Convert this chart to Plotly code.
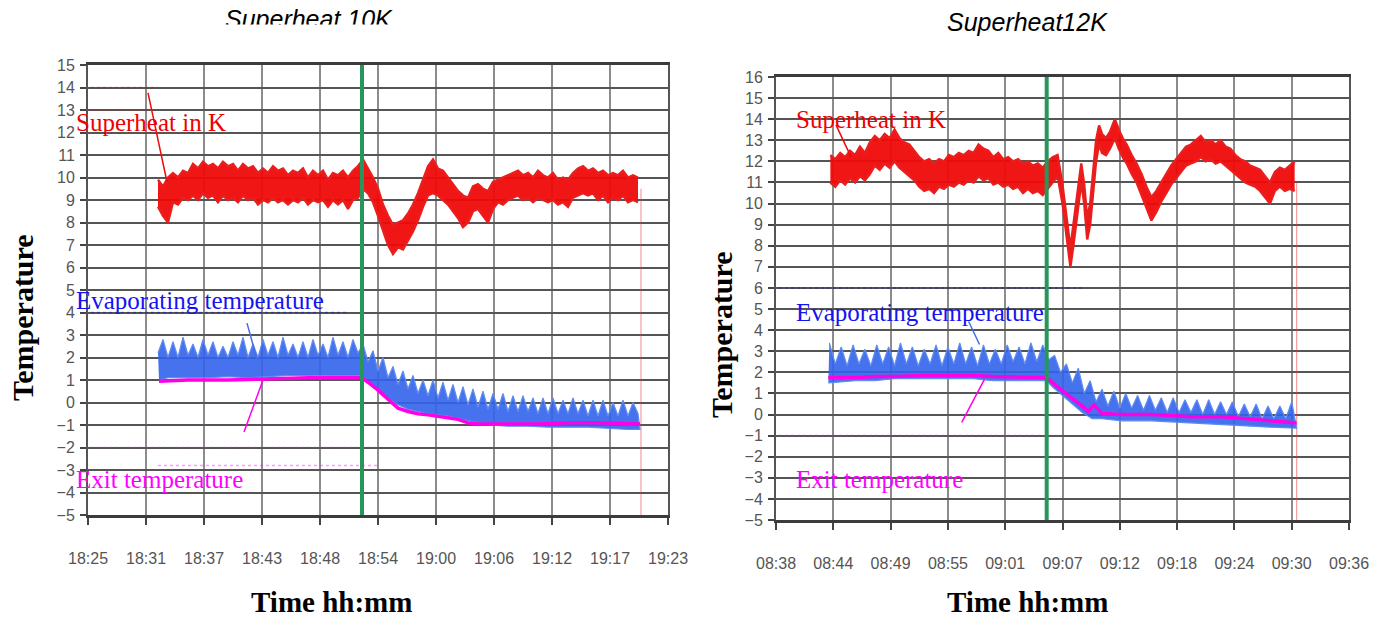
import numpy as np
import plotly.graph_objects as go

# ---------------- tick data (minutes from axis start) ----------------
x_tick_pos = [0, 5.8, 11.6, 17.4, 23.2, 29.0, 34.8, 40.6, 46.4, 52.2, 58.0]
left_tick_labels = ["18:25", "18:31", "18:37", "18:43", "18:48", "18:54",
                    "19:00", "19:06", "19:12", "19:17", "19:23"]
right_tick_labels = ["08:38", "08:44", "08:49", "08:55", "09:01", "09:07",
                     "09:12", "09:18", "09:24", "09:30", "09:36"]

# ---------------- Superheat 10K (left) ----------------
sh10_start, sh10_step = 7.0, 0.5
sh10_lo = [8.7, 8.3, 8.0, 8.9, 8.8, 9.1, 9.0, 9.2, 9.0, 9.3,
           9.1, 9.2, 8.9, 9.2, 9.0, 9.1, 8.9, 9.2, 9.0, 9.1,
           8.8, 9.0, 8.9, 9.1, 8.9, 9.0, 8.8, 9.0, 8.9, 9.1,
           8.8, 9.0, 8.9, 9.0, 8.7, 9.0, 8.8, 9.0, 8.6, 9.0,
           9.1, 9.5, 9.3, 8.9, 8.3, 7.6, 7.0, 6.6, 6.9, 6.8,
           7.2, 7.6, 8.1, 8.7, 9.2, 9.3, 9.2, 9.0, 8.8, 8.5,
           8.2, 7.8, 8.0, 8.5, 8.6, 8.3, 8.0, 8.6, 8.9, 8.8,
           9.0, 9.1, 9.2, 9.0, 9.1, 8.9, 9.1, 9.0, 8.9, 9.0,
           8.8, 8.9, 8.7, 9.1, 9.2, 9.3, 9.2, 9.3, 9.0, 9.2,
           8.9, 9.1, 9.0, 9.2, 8.9, 9.0, 8.9]
sh10_hi = [9.9, 9.6, 10.0, 10.2, 10.0, 10.3, 10.2, 10.6, 10.4, 10.7,
           10.5, 10.6, 10.4, 10.7, 10.5, 10.6, 10.3, 10.6, 10.4, 10.5,
           10.2, 10.4, 10.2, 10.5, 10.3, 10.4, 10.1, 10.3, 10.2, 10.4,
           10.0, 10.3, 10.1, 10.3, 9.9, 10.2, 10.1, 10.3, 10.0, 10.3,
           10.5, 10.8, 10.4, 10.0, 9.5, 8.8, 8.3, 7.9, 8.0, 8.1,
           8.4, 8.8, 9.3, 9.9, 10.5, 10.8, 10.4, 10.3, 10.0, 9.7,
           9.4, 9.2, 9.1, 9.6, 9.7, 9.5, 9.4, 9.8, 9.9, 10.0,
           10.1, 10.2, 10.3, 10.1, 10.2, 10.0, 10.3, 10.1, 10.0, 10.2,
           9.9, 10.0, 9.9, 10.2, 10.4, 10.5, 10.3, 10.4, 10.2, 10.3,
           10.1, 10.2, 10.1, 10.3, 10.0, 10.1, 10.0]

ev10_up_start, ev10_up_step = 7.0, 0.5
ev10_up = [2.2, 2.8, 2.0, 2.7, 2.0, 2.9, 2.1, 2.6, 2.0, 2.8,
           2.1, 2.7, 2.0, 2.5, 2.0, 2.7, 2.1, 2.9, 2.0, 2.6,
           2.0, 2.8, 2.1, 2.7, 2.0, 2.9, 2.1, 2.6, 2.0, 2.7,
           2.0, 2.8, 2.1, 2.6, 2.0, 2.9, 2.1, 2.7, 2.0, 2.8,
           2.2, 2.6, 1.8, 2.3, 1.4, 2.0, 1.1, 1.6, 0.8, 1.4,
           0.6, 1.2, 0.4, 1.0, 0.3, 1.0, 0.2, 0.9, 0.1, 0.8,
           0.0, 0.7, -0.1, 0.6, -0.2, 0.5, -0.3, 0.4, -0.3, 0.4,
           -0.4, 0.3, -0.4, 0.3, -0.4, 0.2, -0.5, 0.2, -0.5, 0.2,
           -0.5, 0.1, -0.5, 0.2, -0.5, 0.1, -0.6, 0.1, -0.6, 0.1,
           -0.6, 0.0, -0.6, 0.1, -0.6, 0.0, -0.5]
ev10_lo_t = [7.1, 8, 10, 12, 14, 16, 18, 20, 22, 24, 26, 27.4, 28, 29, 30, 31, 32,
             33, 34, 35, 36, 37, 38, 39, 40, 42, 44, 46, 48, 50, 52, 54, 55.2]
ev10_lo = [1.0, 1.1, 1.1, 1.1, 1.15, 1.1, 1.15, 1.2, 1.2, 1.2, 1.2, 1.2, 0.9, 0.5,
           0.2, -0.1, -0.3, -0.4, -0.5, -0.55, -0.6, -0.7, -0.8, -0.9, -1.0, -1.05,
           -1.05, -1.1, -1.1, -1.1, -1.15, -1.2, -1.2]

ex10_t = [7.1, 10, 14, 18, 22, 26, 27.4, 28, 29, 30, 31, 32, 33, 34, 35, 36, 37,
          38, 39, 40, 42, 45, 48, 51, 55.2]
ex10 = [0.95, 1.0, 1.0, 1.05, 1.1, 1.1, 1.1, 0.9, 0.55, 0.15, -0.25, -0.4, -0.5,
        -0.55, -0.6, -0.68, -0.75, -0.9, -0.95, -0.95, -0.95, -0.95, -0.9, -0.9, -0.95]

# ---------------- Superheat 12K (right) ----------------
sh12_t = (list(np.arange(5.5, 28.51, 0.5))
          + [29.0, 29.3, 29.6, 29.8, 30.1, 30.5, 30.9, 31.2, 31.5, 31.8,
             32.1, 32.4, 32.7, 33.0, 33.4, 33.8, 34.3, 34.7, 35.2]
          + list(np.arange(35.5, 52.51, 0.5)))
sh12_lo = [11.0, 10.8, 11.1, 10.9, 11.2, 11.0, 11.3, 11.1, 11.4, 11.8,
           11.6, 11.9, 11.7, 12.0, 11.7, 11.5, 11.3, 11.1, 10.8, 10.6,
           10.7, 10.5, 10.8, 10.7, 10.9, 10.8, 11.0, 10.9, 11.1, 11.0,
           11.3, 11.1, 11.2, 10.9, 11.0, 10.8, 10.9, 10.7, 10.8, 10.5,
           10.7, 10.5, 10.6, 10.4, 10.7, 11.0, 11.3,
           10.0, 8.9, 7.6, 7.0, 8.0, 9.6, 11.0, 10.0, 8.3, 9.0,
           10.6, 12.0, 12.8, 12.4, 12.3, 12.6, 13.1, 12.6, 12.1,
           11.9, 11.4, 11.0, 10.4, 9.8, 9.2, 9.6, 10.1, 10.5, 10.9,
           11.2, 11.5, 11.8, 11.9, 12.0, 12.2, 12.0, 12.1, 11.9, 12.0,
           11.8, 11.6, 11.4, 11.2, 11.0, 10.9, 10.8, 10.6, 10.3, 10.0,
           10.6, 10.8, 10.6, 10.7, 10.6]
sh12_hi = [12.3, 12.1, 12.4, 12.2, 12.5, 12.3, 12.7, 12.4, 12.9, 13.2,
           13.0, 13.3, 13.1, 13.5, 13.1, 12.9, 12.8, 12.5, 12.2, 12.0,
           12.1, 11.9, 12.1, 12.0, 12.3, 12.2, 12.4, 12.3, 12.5, 12.4,
           12.8, 12.6, 12.5, 12.2, 12.4, 12.1, 12.2, 12.0, 12.1, 11.9,
           12.0, 11.8, 11.9, 11.7, 12.0, 12.2, 12.3,
           10.9, 9.8, 8.5, 7.9, 9.0, 10.6, 11.9, 10.9, 9.3, 10.0,
           11.6, 13.0, 13.7, 13.3, 13.1, 13.4, 14.0, 13.5, 13.0,
           12.8, 12.3, 11.9, 11.4, 10.8, 10.3, 10.6, 11.0, 11.4, 11.8,
           12.1, 12.4, 12.7, 12.8, 13.0, 13.2, 12.9, 13.0, 12.8, 13.0,
           12.7, 12.6, 12.3, 12.1, 12.0, 11.8, 11.7, 11.6, 11.3, 11.0,
           11.5, 11.7, 11.6, 11.8, 12.0]

ev12_up_start, ev12_up_step = 5.4, 0.6
ev12_up = [3.4, 2.4, 3.2, 2.3, 3.3, 2.4, 3.1, 2.3, 3.3, 2.4,
           3.2, 2.3, 3.4, 2.4, 3.2, 2.3, 3.1, 2.4, 3.3, 2.3,
           3.2, 2.4, 3.4, 2.4, 3.2, 2.3, 3.3, 2.4, 3.1, 2.4,
           3.3, 2.5, 3.2, 2.4, 3.4, 2.5, 3.3, 2.6, 2.8, 2.0,
           2.4, 1.5, 2.2, 1.0, 1.6, 0.6, 1.2, 0.4, 1.1, 0.3,
           1.0, 0.3, 0.9, 0.2, 0.9, 0.2, 0.8, 0.1, 0.8, 0.1,
           0.7, 0.1, 0.7, 0.0, 0.7, 0.0, 0.6, 0.0, 0.6, -0.1,
           0.5, -0.1, 0.5, -0.2, 0.4, -0.2, 0.4, -0.2, 0.6]
ev12_lo_t = [5.3, 8, 10, 12, 15, 18, 20, 22, 25, 27.4, 28, 29, 30, 31, 32, 33, 35,
             38, 40, 42, 44, 46, 48, 50, 52.7]
ev12_lo = [1.5, 1.6, 1.6, 1.7, 1.7, 1.7, 1.7, 1.6, 1.6, 1.6, 1.3, 0.9, 0.5, 0.1,
           -0.2, -0.2, -0.3, -0.3, -0.35, -0.4, -0.45, -0.5, -0.55, -0.6, -0.65]

ex12_t = [5.3, 8, 10, 12, 15, 18, 20, 22, 25, 27.4, 28, 29, 30, 31, 31.6, 32.2, 33,
          35, 38, 40, 42, 45, 48, 50, 52.7]
ex12 = [1.75, 1.75, 1.8, 1.8, 1.85, 1.85, 1.85, 1.8, 1.75, 1.75, 1.5, 1.1, 0.75,
        0.4, 0.15, 0.45, 0.05, 0.0, 0.0, -0.05, -0.1, -0.1, -0.2, -0.3, -0.4]

# event (green marker) times and end-of-record drop lines
event_t = [27.4, 27.4]
end_t = [55.3, 52.7]
end_top = [9.5, 11.0]

# faint ghost dotted lines seen in the original (level, t_start, t_end, colour)
ghost10 = [(14.0, 0.3, 7.0, "red"), (13.0, 0.3, 7.0, "red"), (4.0, 0.3, 26.0, "blue"),
           (-2.0, 0.3, 29.0, "magenta"), (-2.8, 7.0, 29.0, "magenta")]
ghost12 = [(6.0, 0.3, 31.0, "blue"), (-1.0, 0.3, 29.0, "magenta")]

RED = "rgb(240,10,10)"
MAG = "rgb(255,0,230)"
GREEN = "rgb(40,150,90)"

fig = go.Figure()


def add_panel(xa, ya, sh_t, sh_lo, sh_hi, up_start, up_step, up, lo_t, lo, ex_t, ex,
              ghosts, t_end, top_end):
    for lvl, a, b, col in ghosts:
        fig.add_trace(go.Scatter(x=[a, b], y=[lvl, lvl], mode="lines", xaxis=xa, yaxis=ya,
                                 line=dict(color=col, width=1.5, dash="dot"), opacity=0.4,
                                 showlegend=False, hoverinfo="skip"))
    fig.add_trace(go.Scatter(x=[t_end, t_end], y=[top_end, -5], mode="lines", xaxis=xa, yaxis=ya,
                             line=dict(color="rgba(240,60,60,0.5)", width=1.2),
                             showlegend=False, hoverinfo="skip"))
    # superheat band
    fig.add_trace(go.Scatter(x=sh_t, y=sh_lo, mode="lines", xaxis=xa, yaxis=ya,
                             line=dict(color="rgb(235,30,30)", width=2.4), showlegend=False))
    fig.add_trace(go.Scatter(x=sh_t, y=sh_hi, mode="lines", xaxis=xa, yaxis=ya, fill="tonexty",
                             fillcolor="rgba(240,10,10,0.95)",
                             line=dict(color="rgb(235,30,30)", width=2.4), showlegend=False))
    # evaporating temperature band (sawtooth upper edge)
    up_t = [up_start + up_step * i for i in range(len(up))]
    px = up_t + list(lo_t)[::-1]
    py = up + list(lo)[::-1]
    fig.add_trace(go.Scatter(x=px, y=py, mode="lines", xaxis=xa, yaxis=ya, fill="toself",
                             fillcolor="rgba(50,100,235,0.9)",
                             line=dict(color="rgb(95,140,240)", width=1.2), showlegend=False))
    # exit temperature
    fig.add_trace(go.Scatter(x=ex_t, y=ex, mode="lines", xaxis=xa, yaxis=ya,
                             line=dict(color=MAG, width=3.5), showlegend=False))


sh10_t = [sh10_start + sh10_step * i for i in range(len(sh10_lo))]
add_panel("x", "y", sh10_t, sh10_lo, sh10_hi, ev10_up_start, ev10_up_step, ev10_up,
          ev10_lo_t, ev10_lo, ex10_t, ex10, ghost10, end_t[0], end_top[0])
add_panel("x2", "y2", sh12_t, sh12_lo, sh12_hi, ev12_up_start, ev12_up_step, ev12_up,
          ev12_lo_t, ev12_lo, ex12_t, ex12, ghost12, end_t[1], end_top[1])

W, H = 1383, 622
tickfont = dict(family="Liberation Sans, Arial, sans-serif", size=16, color="#555555")


def xax(domain, labels, anchor):
    return dict(domain=domain, range=[0, 58], tickvals=x_tick_pos, ticktext=labels,
                anchor=anchor, automargin=False,
                showgrid=True, gridcolor="#8c8c8c", gridwidth=1.5, zeroline=False,
                showline=True, mirror=True, linecolor="#3c3c3c", linewidth=3,
                ticks="outside", ticklen=7, tickwidth=2, tickcolor="#444444",
                tickfont=tickfont, ticklabelstandoff=20)


def yax(domain, rng, anchor):
    return dict(domain=domain, range=rng, dtick=1, tick0=0, anchor=anchor, automargin=False,
                showgrid=True, gridcolor="#555555", gridwidth=2, zeroline=False,
                showline=True, mirror=True, linecolor="#555555", linewidth=2,
                ticks="outside", ticklen=6, tickwidth=2, tickcolor="#444444",
                tickfont=tickfont, ticklabelstandoff=2)


fig.update_layout(
    width=W, height=H, margin=dict(l=0, r=0, t=0, b=0, pad=0),
    paper_bgcolor="white", plot_bgcolor="white", showlegend=False,
    xaxis=xax([88 / W, 668 / W], left_tick_labels, "y"),
    yaxis=yax([1 - 515 / H, 1 - 65 / H], [-5, 15], "x"),
    xaxis2=xax([776 / W, 1349 / W], right_tick_labels, "y2"),
    yaxis2=yax([1 - 520 / H, 1 - 77 / H], [-5, 16], "x2"),
)

shapes = [
    dict(type="line", xref="x", yref="y", x0=event_t[0], x1=event_t[0],
         y0=-5.1, y1=15.05, line=dict(color=GREEN, width=4)),
    dict(type="line", xref="x2", yref="y2", x0=event_t[1], x1=event_t[1],
         y0=-5.1, y1=16.05, line=dict(color=GREEN, width=4)),
]
# pointer lines from labels to curves (data coordinates)
pointers = [("x", "y", 6.0, 13.76, 7.9, 9.8, RED),
            ("x", "y", 15.9, 3.53, 17.0, 1.76, "rgb(70,110,230)"),
            ("x", "y", 17.5, 1.0, 15.6, -1.31, MAG),
            ("x2", "y2", 6.07, 13.73, 7.6, 12.2, RED),
            ("x2", "y2", 19.5, 4.41, 20.6, 3.32, "rgb(70,110,230)"),
            ("x2", "y2", 21.1, 1.67, 18.8, -0.37, MAG)]
for xr, yr, x0, y0, x1, y1, col in pointers:
    shapes.append(dict(type="line", xref=xr, yref=yr, x0=x0, y0=y0, x1=x1, y1=y1,
                       line=dict(color=col, width=1.5), layer="above"))
fig.update_layout(shapes=shapes)

serif = "Liberation Serif, Times New Roman, serif"
sans = "Liberation Sans, Arial, sans-serif"
ann = []


def px_ann(text, x, y, size, color, family, xanchor="center", bold=False, italic=False,
           angle=0):
    t = text
    if bold:
        t = "<b>" + t + "</b>"
    if italic:
        t = "<i>" + t + "</i>"
    ann.append(dict(text=t, x=x / W, y=1 - y / H, xref="paper", yref="paper",
                    xanchor=xanchor, yanchor="middle", showarrow=False, textangle=angle,
                    font=dict(size=size, color=color, family=family)))


px_ann("Superheat in K", 74, 122, 25, "rgb(240,0,0)", serif, "left")
px_ann("Evaporating temperature", 74, 300, 25, "rgb(20,20,240)", serif, "left")
px_ann("Exit temperature", 74, 480, 25, "rgb(255,0,255)", serif, "left")
px_ann("Superheat in K", 794, 120, 25, "rgb(240,0,0)", serif, "left")
px_ann("Evaporating temperature", 794, 312, 25, "rgb(20,20,240)", serif, "left")
px_ann("Exit temperature", 794, 480, 25, "rgb(255,0,255)", serif, "left")

px_ann("Time hh:mm", 331, 602, 29, "black", serif, bold=True)
px_ann("Time hh:mm", 1027, 602, 29, "black", serif, bold=True)
px_ann("Temperature", 22, 318, 30, "black", serif, bold=True, angle=-90)
px_ann("Temperature", 722, 335, 30, "black", serif, bold=True, angle=-90)

px_ann("Superheat 10K", 309, 19, 25, "black", sans, italic=True)
px_ann("Superheat12K", 1027, 22, 25, "black", sans, italic=True)
# white strip clipping the bottom of the left title, as in the original
ann.append(dict(text=" ", x=309 / W, y=1 - 35 / H, xref="paper", yref="paper",
                xanchor="center", yanchor="middle", showarrow=False, width=260, height=18,
                bgcolor="white", font=dict(size=10)))

fig.update_layout(annotations=ann)
fig.write_html("out.html")
